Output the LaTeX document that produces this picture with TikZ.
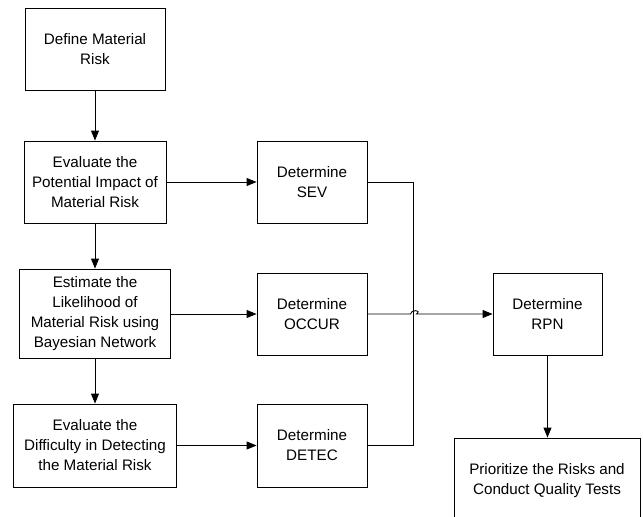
\documentclass[tikz,border=0pt]{standalone}
\usepackage{fontspec}
\setmainfont{Liberation Sans}
\usetikzlibrary{arrows.meta}
\begin{document}
\begin{tikzpicture}[x=1pt,y=-1pt,
 box/.style={draw=black,line width=0.9pt,align=center,inner sep=0pt,font=\fontsize{15.2}{20}\selectfont},
 arr/.style={-{Triangle[length=10pt,width=8pt]},line width=0.9pt},
 ln/.style={line width=0.9pt}]
\useasboundingbox (0,0) rectangle (643,517);
\clip (0,0) rectangle (643,517);
\node[box,minimum width=140pt,minimum height=82pt] (b1) at (95,49) {Define Material\\Risk};
\node[box,minimum width=142pt,minimum height=82pt] (b2) at (95,182) {Evaluate the\\Potential Impact of\\Material Risk};
\node[box,minimum width=151pt,minimum height=89pt] (b3) at (95,313.5) {Estimate the\\Likelihood of\\Material Risk using\\Bayesian Network};
\node[box,minimum width=163pt,minimum height=83pt] (b4) at (95,445.5) {Evaluate the\\Difficulty in Detecting\\the Material Risk};
\node[box,minimum width=110pt,minimum height=82pt] (sev) at (312,182) {Determine\\SEV};
\node[box,minimum width=110pt,minimum height=82pt] (occ) at (312,314) {Determine\\OCCUR};
\node[box,minimum width=110pt,minimum height=83pt] (det) at (312,445.5) {Determine\\DETEC};
\node[box,minimum width=109pt,minimum height=82pt] (rpn) at (547.5,314) {Determine\\RPN};
\node[box,minimum width=186pt,minimum height=86pt] (pri) at (547,481) {Prioritize the Risks and\\Conduct Quality Tests};
\draw[arr] (b1.south) -- (b2.north);
\draw[arr] (b2.south) -- (b3.north);
\draw[arr] (b3.south) -- (b4.north);
\draw[arr] (b2.east) -- (sev.west);
\draw[arr] (b3.east |- occ.west) -- (occ.west);
\draw[arr] (b4.east) -- (det.west);
\draw[ln] (sev.east) -- ++(46,0) |- (det.east);
\draw[arr] (occ.east) -- ++(43,0) .. controls ++(0,-4.5) and ++(6,-4.5) .. ++(6,0) -- (rpn.west);
\draw[arr] (rpn.south) -- (rpn.south |- pri.north);
\end{tikzpicture}
\end{document}
